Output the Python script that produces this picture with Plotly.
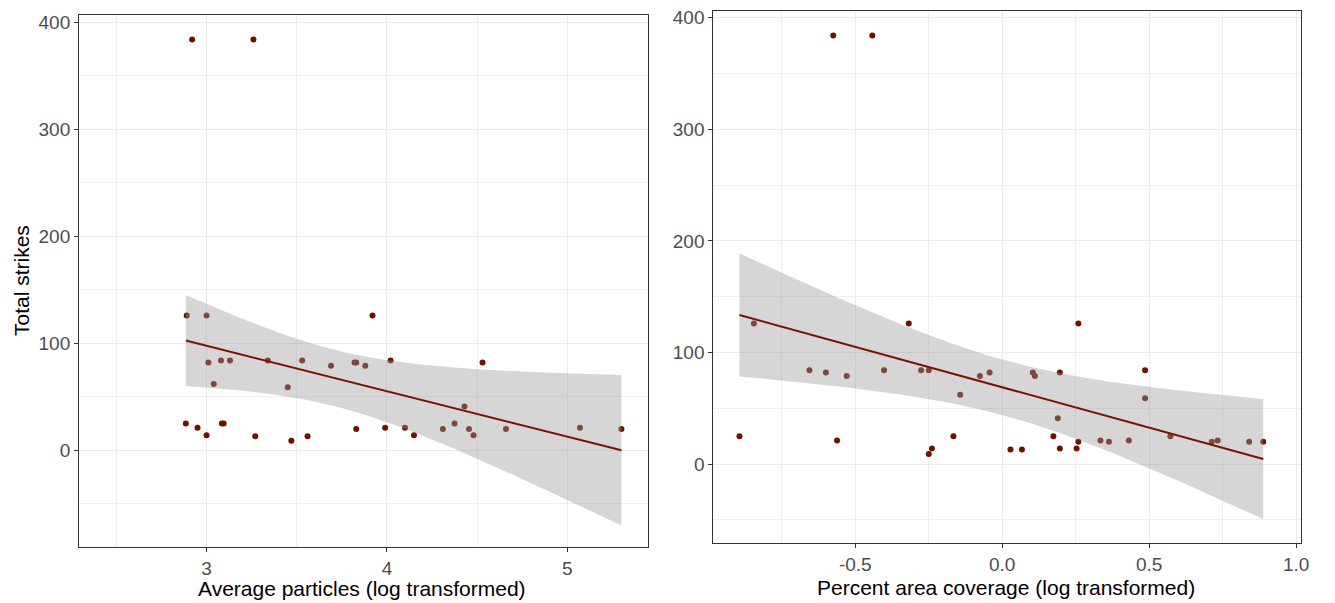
import numpy as np
import plotly.graph_objects as go

# ---- data ----
strikes_left = [384, 384, 126, 126, 82, 62, 84, 84, 84, 59, 84, 79, 82, 82, 79, 126, 84,
                25, 21, 14, 25, 25, 13, 9, 13, 20, 21, 21, 14,
                82, 41, 20, 25, 20, 14, 20, 21, 20]
particles_log = [2.92, 3.26, 2.89, 3.00, 3.01, 3.04, 3.08, 3.13, 3.34, 3.45, 3.53, 3.69, 3.82, 3.83, 3.88, 3.92, 4.02,
                 2.885, 2.95, 3.00, 3.085, 3.095, 3.27, 3.47, 3.56, 3.83, 3.99, 4.10, 4.15,
                 4.53, 4.43, 4.31, 4.375, 4.455, 4.48, 4.66, 5.07, 5.30]

strikes_right = [384, 384, 25, 126, 84, 82, 79, 21, 84, 126, 84, 84, 9, 14, 25, 62, 79, 82,
                 13, 13, 82, 79, 41, 25, 82, 14, 14, 126, 20, 21, 20, 21, 84, 59, 25, 20, 21, 20, 20]
coverage_log = [-0.575, -0.442, -0.894, -0.845, -0.656, -0.600, -0.529, -0.562, -0.402, -0.318, -0.276, -0.250,
                -0.250, -0.239, -0.166, -0.143, -0.076, -0.043,
                0.028, 0.067, 0.104, 0.111, 0.189, 0.174, 0.196, 0.196, 0.253, 0.259, 0.259, 0.334, 0.363,
                0.431, 0.486, 0.486, 0.572, 0.713, 0.733, 0.840, 0.888]

left_xticks = [3, 4, 5]
left_xticklabels = ["3", "4", "5"]
right_xticks = [-0.5, 0.0, 0.5, 1.0]
right_xticklabels = ["-0.5", "0.0", "0.5", "1.0"]
yticks = [0, 100, 200, 300, 400]
yticklabels = ["0", "100", "200", "300", "400"]

T975 = 2.028  # t quantile (0.975) for ~36 df, as used by geom_smooth's 95% band


def lm_band(x, y, n=80):
    x = np.asarray(x, float)
    y = np.asarray(y, float)
    b, a = np.polyfit(x, y, 1)
    resid = y - (a + b * x)
    s2 = np.sum(resid ** 2) / (len(x) - 2)
    xbar = x.mean()
    sxx = np.sum((x - xbar) ** 2)
    xs = np.linspace(x.min(), x.max(), n)
    fit = a + b * xs
    se = np.sqrt(s2 * (1.0 / len(x) + (xs - xbar) ** 2 / sxx))
    return xs, fit, fit - T975 * se, fit + T975 * se


PT = "#6E1200"
LINE = "#7A1300"
BAND = "rgba(153,153,153,0.4)"

fig = go.Figure()

panels = [
    (particles_log, strikes_left, "x", "y"),
    (coverage_log, strikes_right, "x2", "y2"),
]
for xv, yv, xa, ya in panels:
    fig.add_trace(go.Scatter(x=xv, y=yv, mode="markers", xaxis=xa, yaxis=ya,
                             marker=dict(color=PT, size=6), showlegend=False, hoverinfo="x+y"))
    xs, fit, lo, hi = lm_band(xv, yv)
    fig.add_trace(go.Scatter(x=np.concatenate([xs, xs[::-1]]), y=np.concatenate([hi, lo[::-1]]),
                             mode="lines", fill="toself", fillcolor=BAND, line=dict(width=0),
                             xaxis=xa, yaxis=ya, showlegend=False, hoverinfo="skip"))
    fig.add_trace(go.Scatter(x=xs, y=fit, mode="lines", line=dict(color=LINE, width=2),
                             xaxis=xa, yaxis=ya, showlegend=False, hoverinfo="skip"))

FONT = "Liberation Sans, Arial, sans-serif"
tickfont = dict(family=FONT, size=19, color="#4D4D4D")
common = dict(showline=True, mirror=True, linecolor="#333333", linewidth=1,
              ticks="outside", ticklen=4, tickcolor="#333333", tickwidth=1,
              showgrid=True, gridcolor="#EBEBEB", gridwidth=1.2, zeroline=False,
              tickfont=tickfont)
MINOR_GRID = "#EFEFEF"

fig.update_layout(
    width=1335, height=603, margin=dict(l=0, r=0, t=0, b=0),
    paper_bgcolor="white", plot_bgcolor="white",
    xaxis=dict(domain=[79.5 / 1335, 651.5 / 1335], range=[2.293, 5.445],
               tickmode="array", tickvals=left_xticks, ticktext=left_xticklabels,
               minor=dict(dtick=0.5, tick0=0, showgrid=True, gridcolor=MINOR_GRID, gridwidth=1, ticks=""),
               anchor="y", **common),
    yaxis=dict(domain=[1 - 546.7 / 603, 1 - 11 / 603], range=[-90.5, 407],
               tickmode="array", tickvals=yticks, ticktext=yticklabels,
               minor=dict(dtick=50, tick0=0, showgrid=True, gridcolor=MINOR_GRID, gridwidth=1, ticks=""),
               anchor="x", **common),
    xaxis2=dict(domain=[717.6 / 1335, 1309.3 / 1335], range=[-0.983, 1.018],
                tickmode="array", tickvals=right_xticks, ticktext=right_xticklabels,
                minor=dict(dtick=0.25, tick0=0, showgrid=True, gridcolor=MINOR_GRID, gridwidth=1, ticks=""),
                anchor="y2", **common),
    yaxis2=dict(domain=[1 - 542.3 / 603, 1 - 7.1 / 603], range=[-70.5, 406],
                tickmode="array", tickvals=yticks, ticktext=yticklabels,
                minor=dict(dtick=50, tick0=0, showgrid=True, gridcolor=MINOR_GRID, gridwidth=1, ticks=""),
                anchor="x2", **common),
)

titlefont = dict(family=FONT, size=21, color="black")
fig.add_annotation(text="Average particles (log transformed)", x=364 / 1335, y=1 - 588 / 603,
                   xref="paper", yref="paper", showarrow=False, font=titlefont,
                   xanchor="center", yanchor="middle")
fig.add_annotation(text="Percent area coverage (log transformed)", x=1012 / 1335, y=1 - 587 / 603,
                   xref="paper", yref="paper", showarrow=False, font=titlefont,
                   xanchor="center", yanchor="middle")
fig.add_annotation(text="Total strikes", x=21 / 1335, y=1 - 278 / 603, textangle=-90,
                   xref="paper", yref="paper", showarrow=False, font=titlefont,
                   xanchor="center", yanchor="middle")

fig.write_html("out.html")
